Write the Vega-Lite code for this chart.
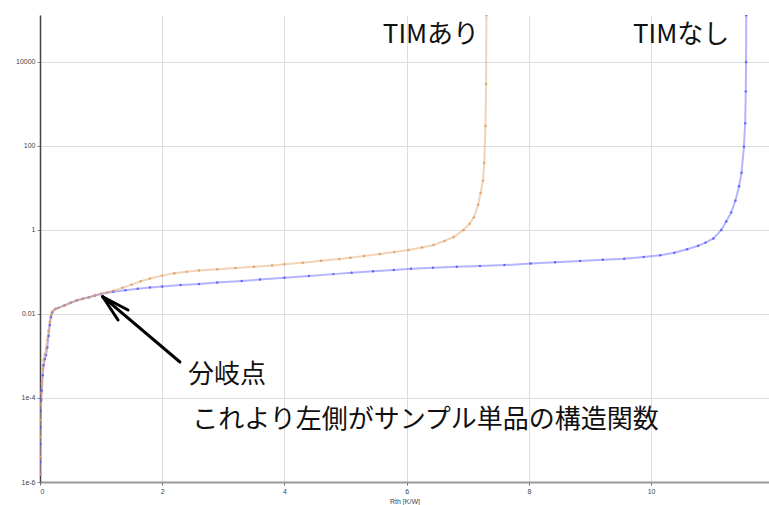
{
  "$schema": "https://vega.github.io/schema/vega-lite/v6.json",
  "width": 729,
  "height": 467,
  "autosize": {"type": "none"},
  "padding": {"left": 40, "top": 15, "right": 0, "bottom": 23},
  "background": "white",
  "config": {"view": {"stroke": null}},
  "datasets": {
    "curves": [
      {"s": "blue", "x": 0.003, "y": 1.5e-6}, {"s": "blue", "x": 0.005, "y": 3e-6}, {"s": "blue", "x": 0.007, "y": 8e-6},
      {"s": "blue", "x": 0.01, "y": 2e-5}, {"s": "blue", "x": 0.015, "y": 5e-5}, {"s": "blue", "x": 0.02, "y": 9e-5},
      {"s": "blue", "x": 0.03, "y": 1.5e-4}, {"s": "blue", "x": 0.045, "y": 3.5e-4}, {"s": "blue", "x": 0.06, "y": 6e-4},
      {"s": "blue", "x": 0.08, "y": 8.5e-4}, {"s": "blue", "x": 0.1, "y": 1.05e-3}, {"s": "blue", "x": 0.12, "y": 1.6e-3},
      {"s": "blue", "x": 0.14, "y": 3e-3}, {"s": "blue", "x": 0.16, "y": 5.5e-3}, {"s": "blue", "x": 0.18, "y": 8.5e-3},
      {"s": "blue", "x": 0.2, "y": 0.011}, {"s": "blue", "x": 0.25, "y": 0.0132}, {"s": "blue", "x": 0.3, "y": 0.014},
      {"s": "blue", "x": 0.4, "y": 0.016}, {"s": "blue", "x": 0.5, "y": 0.0185}, {"s": "blue", "x": 0.6, "y": 0.021},
      {"s": "blue", "x": 0.7, "y": 0.023}, {"s": "blue", "x": 0.8, "y": 0.025}, {"s": "blue", "x": 0.9, "y": 0.0275},
      {"s": "blue", "x": 1.0, "y": 0.03}, {"s": "blue", "x": 1.2, "y": 0.034}, {"s": "blue", "x": 1.4, "y": 0.037},
      {"s": "blue", "x": 1.6, "y": 0.04}, {"s": "blue", "x": 1.8, "y": 0.043}, {"s": "blue", "x": 2.0, "y": 0.045},
      {"s": "blue", "x": 2.3, "y": 0.049}, {"s": "blue", "x": 2.6, "y": 0.052}, {"s": "blue", "x": 2.9, "y": 0.056},
      {"s": "blue", "x": 3.3, "y": 0.061}, {"s": "blue", "x": 3.6, "y": 0.066}, {"s": "blue", "x": 4.0, "y": 0.073},
      {"s": "blue", "x": 4.4, "y": 0.08}, {"s": "blue", "x": 4.8, "y": 0.089}, {"s": "blue", "x": 5.1, "y": 0.096},
      {"s": "blue", "x": 5.45, "y": 0.104}, {"s": "blue", "x": 5.79, "y": 0.112}, {"s": "blue", "x": 6.07, "y": 0.12},
      {"s": "blue", "x": 6.43, "y": 0.126}, {"s": "blue", "x": 6.82, "y": 0.133}, {"s": "blue", "x": 7.2, "y": 0.139},
      {"s": "blue", "x": 7.6, "y": 0.146}, {"s": "blue", "x": 8.03, "y": 0.159}, {"s": "blue", "x": 8.43, "y": 0.171},
      {"s": "blue", "x": 8.84, "y": 0.182}, {"s": "blue", "x": 9.21, "y": 0.196}, {"s": "blue", "x": 9.56, "y": 0.207},
      {"s": "blue", "x": 9.88, "y": 0.227}, {"s": "blue", "x": 10.15, "y": 0.25}, {"s": "blue", "x": 10.38, "y": 0.288},
      {"s": "blue", "x": 10.59, "y": 0.347}, {"s": "blue", "x": 10.77, "y": 0.42}, {"s": "blue", "x": 10.89, "y": 0.5},
      {"s": "blue", "x": 11.02, "y": 0.63}, {"s": "blue", "x": 11.15, "y": 1.0}, {"s": "blue", "x": 11.23, "y": 1.6},
      {"s": "blue", "x": 11.31, "y": 2.6}, {"s": "blue", "x": 11.38, "y": 5.0}, {"s": "blue", "x": 11.44, "y": 11},
      {"s": "blue", "x": 11.48, "y": 23}, {"s": "blue", "x": 11.52, "y": 96}, {"s": "blue", "x": 11.54, "y": 350},
      {"s": "blue", "x": 11.55, "y": 2000}, {"s": "blue", "x": 11.555, "y": 10000}, {"s": "blue", "x": 11.557, "y": 130000},
      {"s": "orange", "x": 0.002, "y": 1.5e-6}, {"s": "orange", "x": 0.005, "y": 4e-6}, {"s": "orange", "x": 0.008, "y": 1.2e-5},
      {"s": "orange", "x": 0.012, "y": 3e-5}, {"s": "orange", "x": 0.016, "y": 7e-5}, {"s": "orange", "x": 0.022, "y": 1.3e-4},
      {"s": "orange", "x": 0.03, "y": 2.2e-4}, {"s": "orange", "x": 0.045, "y": 5e-4}, {"s": "orange", "x": 0.06, "y": 8e-4},
      {"s": "orange", "x": 0.08, "y": 1.1e-3}, {"s": "orange", "x": 0.1, "y": 1.5e-3}, {"s": "orange", "x": 0.12, "y": 2.4e-3},
      {"s": "orange", "x": 0.14, "y": 4e-3}, {"s": "orange", "x": 0.16, "y": 6.5e-3}, {"s": "orange", "x": 0.18, "y": 9.5e-3},
      {"s": "orange", "x": 0.2, "y": 0.0115}, {"s": "orange", "x": 0.25, "y": 0.0132}, {"s": "orange", "x": 0.3, "y": 0.014},
      {"s": "orange", "x": 0.4, "y": 0.0158}, {"s": "orange", "x": 0.5, "y": 0.0183}, {"s": "orange", "x": 0.6, "y": 0.0208},
      {"s": "orange", "x": 0.7, "y": 0.0228}, {"s": "orange", "x": 0.8, "y": 0.0249}, {"s": "orange", "x": 0.9, "y": 0.0275},
      {"s": "orange", "x": 1.0, "y": 0.0302}, {"s": "orange", "x": 1.1, "y": 0.033}, {"s": "orange", "x": 1.2, "y": 0.036},
      {"s": "orange", "x": 1.35, "y": 0.042}, {"s": "orange", "x": 1.5, "y": 0.05}, {"s": "orange", "x": 1.65, "y": 0.06},
      {"s": "orange", "x": 1.8, "y": 0.07}, {"s": "orange", "x": 2.0, "y": 0.082}, {"s": "orange", "x": 2.2, "y": 0.093},
      {"s": "orange", "x": 2.4, "y": 0.102}, {"s": "orange", "x": 2.6, "y": 0.108}, {"s": "orange", "x": 2.9, "y": 0.116},
      {"s": "orange", "x": 3.2, "y": 0.124}, {"s": "orange", "x": 3.5, "y": 0.133}, {"s": "orange", "x": 3.8, "y": 0.143},
      {"s": "orange", "x": 4.0, "y": 0.152}, {"s": "orange", "x": 4.3, "y": 0.166}, {"s": "orange", "x": 4.6, "y": 0.185},
      {"s": "orange", "x": 4.9, "y": 0.205}, {"s": "orange", "x": 5.08, "y": 0.219}, {"s": "orange", "x": 5.3, "y": 0.24},
      {"s": "orange", "x": 5.56, "y": 0.268}, {"s": "orange", "x": 5.8, "y": 0.3}, {"s": "orange", "x": 6.03, "y": 0.334},
      {"s": "orange", "x": 6.25, "y": 0.385}, {"s": "orange", "x": 6.44, "y": 0.44}, {"s": "orange", "x": 6.62, "y": 0.55},
      {"s": "orange", "x": 6.77, "y": 0.68}, {"s": "orange", "x": 6.93, "y": 1.0}, {"s": "orange", "x": 7.03, "y": 1.4},
      {"s": "orange", "x": 7.1, "y": 2.0}, {"s": "orange", "x": 7.17, "y": 4.0}, {"s": "orange", "x": 7.21, "y": 7.6},
      {"s": "orange", "x": 7.25, "y": 15}, {"s": "orange", "x": 7.27, "y": 40}, {"s": "orange", "x": 7.29, "y": 300},
      {"s": "orange", "x": 7.3, "y": 3000}, {"s": "orange", "x": 7.305, "y": 130000}
    ],
    "labels": [
      {"t": "TIMあり", "x": 5.61, "y": 44000},
      {"t": "TIMなし", "x": 9.705, "y": 44000},
      {"t": "分岐点", "x": 2.42, "y": 0.00035},
      {"t": "これより左側がサンプル単品の構造関数", "x": 2.49, "y": 0.00003}
    ],
    "arrow": [
      {"x1": 1.026, "y1": 0.0258, "x2": 2.29, "y2": 0.00072},
      {"x1": 1.026, "y1": 0.0258, "x2": 1.44, "y2": 0.01245},
      {"x1": 1.026, "y1": 0.0258, "x2": 1.277, "y2": 0.0072}
    ]
  },
  "layer": [
    {
      "data": {"name": "curves"},
      "mark": {"type": "line", "strokeWidth": 2, "opacity": 0.45, "clip": true},
      "encoding": {
        "x": {"field": "x", "type": "quantitative",
          "scale": {"domain": [0, 11.93], "nice": false, "zero": false},
          "axis": {"values": [0, 2, 4, 6, 8, 10], "format": "d", "title": "Rth [K/W]", "titleFontSize": 7, "titleFontWeight": "normal",
            "titleColor": "#444", "titlePadding": 3, "labelFontSize": 7, "labelColor": "#444", "labelPadding": 2,
            "domainColor": "#999", "domainWidth": 2, "tickColor": "#666", "tickSize": 3,
            "gridColor": "#ddd", "gridWidth": 1, "labelFont": "Liberation Sans", "titleFont": "Liberation Sans"}},
        "y": {"field": "y", "type": "quantitative",
          "scale": {"type": "log", "domain": [1e-6, 131500], "nice": false},
          "axis": {"values": [1e-6, 1e-4, 0.01, 1, 100, 10000], "title": null,
            "labelExpr": "datum.value < 0.001 ? (datum.value < 1e-5 ? '1e-6' : '1e-4') : format(datum.value, '~g')",
            "labelFontSize": 7, "labelColor": "#444", "labelPadding": 2, "labelFont": "Liberation Sans",
            "domainColor": "#444", "domainWidth": 1.5, "tickColor": "#888", "tickSize": 3,
            "gridColor": "#ddd", "gridWidth": 1}},
        "color": {"field": "s", "type": "nominal", "legend": null,
          "scale": {"domain": ["blue", "orange"], "range": ["#5a5aff", "#e0a060"]}},
        "detail": {"field": "s"}
      }
    },
    {
      "data": {"name": "curves"},
      "mark": {"type": "point", "filled": true, "size": 6, "opacity": 0.9, "clip": true},
      "encoding": {
        "x": {"field": "x", "type": "quantitative", "scale": {"domain": [0, 11.93], "nice": false, "zero": false}},
        "y": {"field": "y", "type": "quantitative", "scale": {"type": "log", "domain": [1e-6, 131500], "nice": false}},
        "color": {"field": "s", "type": "nominal", "legend": null,
          "scale": {"domain": ["blue", "orange"], "range": ["#3030e0", "#c88a3c"]}}
      }
    },
    {
      "data": {"name": "arrow"},
      "mark": {"type": "rule", "color": "black", "strokeWidth": 3, "strokeCap": "round"},
      "encoding": {
        "x": {"field": "x1", "type": "quantitative", "scale": {"domain": [0, 11.93], "nice": false, "zero": false}},
        "y": {"field": "y1", "type": "quantitative", "scale": {"type": "log", "domain": [1e-6, 131500], "nice": false}},
        "x2": {"field": "x2"},
        "y2": {"field": "y2"}
      }
    },
    {
      "data": {"name": "labels"},
      "mark": {"type": "text", "align": "left", "baseline": "middle", "fontSize": 26, "font": "Noto Sans CJK JP", "color": "#111"},
      "encoding": {
        "x": {"field": "x", "type": "quantitative", "scale": {"domain": [0, 11.93], "nice": false, "zero": false}},
        "y": {"field": "y", "type": "quantitative", "scale": {"type": "log", "domain": [1e-6, 131500], "nice": false}},
        "text": {"field": "t"}
      }
    }
  ]
}
